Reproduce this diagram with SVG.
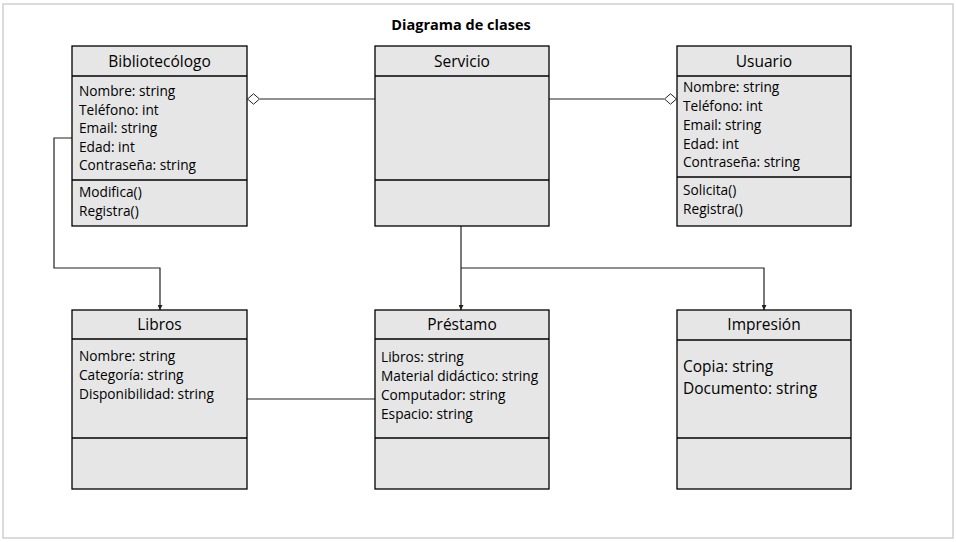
<svg xmlns="http://www.w3.org/2000/svg" width="956" height="542" viewBox="0 0 956 542">
<style>
.box{fill:#e6e6e6;stroke:#000;stroke-width:1.3}
.div{stroke:#000;stroke-width:1.3}
.t{font-family:"Open Sans","Liberation Sans",sans-serif;font-size:13.7px;fill:#000}
.h{font-family:"Open Sans","Liberation Sans",sans-serif;font-size:15.5px;fill:#000;text-anchor:middle}
.big{font-family:"Open Sans","Liberation Sans",sans-serif;font-size:15.5px;fill:#000}
.c{fill:none;stroke:#222;stroke-width:1.2}
</style>
<defs>
<marker id="arr" viewBox="0 0 10 10" refX="10" refY="5" markerWidth="5" markerHeight="5" orient="auto" markerUnits="userSpaceOnUse"><path d="M0,0 L10,5 L0,10 z" fill="#222"/></marker>
<marker id="dia" viewBox="0 0 13 12" refX="0" refY="6" markerWidth="13" markerHeight="12" orient="auto" markerUnits="userSpaceOnUse"><path d="M0.5,6 L6.5,0.8 L12.5,6 L6.5,11.2 z" fill="#fff" stroke="#222" stroke-width="1"/></marker>
</defs>
<rect x="0" y="0" width="956" height="542" fill="#fff"/>
<rect x="3" y="4" width="950" height="534" fill="#fff" stroke="#cfcfcf" stroke-width="1.5"/>
<text x="461" y="30" text-anchor="middle" font-family="Open Sans,Liberation Sans,sans-serif" font-size="14.5" font-weight="bold">Diagrama de clases</text>

<g id="connectors">
<path class="c" d="M375,99 H260" marker-end="url(#dia)"/>
<path class="c" d="M549,99 H664" marker-end="url(#dia)"/>
<path class="c" d="M72,138 H54 V268 H160 V310" marker-end="url(#arr)"/>
<path class="c" d="M247,399 H375"/>
<path class="c" d="M461,226 V310" marker-end="url(#arr)"/>
<path class="c" d="M461,268 H764 V310" marker-end="url(#arr)"/>
</g>

<g id="bibliotecologo">
<rect class="box" x="72" y="46" width="175" height="180"/>
<line class="div" x1="72" y1="76" x2="247" y2="76"/>
<line class="div" x1="72" y1="180" x2="247" y2="180"/>
<text class="h" x="159.5" y="67">Bibliotecólogo</text>
<text class="t" x="79" y="96">Nombre: string</text>
<text class="t" x="79" y="114.5">Teléfono: int</text>
<text class="t" x="79" y="133">Email: string</text>
<text class="t" x="79" y="151.5">Edad: int</text>
<text class="t" x="79" y="170">Contraseña: string</text>
<text class="t" x="79" y="197">Modifica()</text>
<text class="t" x="79" y="216">Registra()</text>
</g>

<g id="servicio">
<rect class="box" x="375" y="46" width="174" height="180"/>
<line class="div" x1="375" y1="76" x2="549" y2="76"/>
<line class="div" x1="375" y1="180" x2="549" y2="180"/>
<text class="h" x="462" y="67">Servicio</text>
</g>

<g id="usuario">
<rect class="box" x="677" y="46" width="174" height="180"/>
<line class="div" x1="677" y1="76" x2="851" y2="76"/>
<line class="div" x1="677" y1="177" x2="851" y2="177"/>
<text class="h" x="764" y="67">Usuario</text>
<text class="t" x="683" y="92">Nombre: string</text>
<text class="t" x="683" y="110.5">Teléfono: int</text>
<text class="t" x="683" y="130">Email: string</text>
<text class="t" x="683" y="148.5">Edad: int</text>
<text class="t" x="683" y="167">Contraseña: string</text>
<text class="t" x="683" y="195">Solicita()</text>
<text class="t" x="683" y="214">Registra()</text>
</g>

<g id="libros">
<rect class="box" x="72" y="310" width="175" height="179"/>
<line class="div" x1="72" y1="339" x2="247" y2="339"/>
<line class="div" x1="72" y1="438" x2="247" y2="438"/>
<text class="h" x="159.5" y="330">Libros</text>
<text class="t" x="79" y="361">Nombre: string</text>
<text class="t" x="79" y="380">Categoría: string</text>
<text class="t" x="79" y="399">Disponibilidad: string</text>
</g>

<g id="prestamo">
<rect class="box" x="375" y="310" width="174" height="179"/>
<line class="div" x1="375" y1="339" x2="549" y2="339"/>
<line class="div" x1="375" y1="438" x2="549" y2="438"/>
<text class="h" x="462" y="330">Préstamo</text>
<text class="t" x="381" y="362">Libros: string</text>
<text class="t" x="381" y="381">Material didáctico: string</text>
<text class="t" x="381" y="400">Computador: string</text>
<text class="t" x="381" y="419">Espacio: string</text>
</g>

<g id="impresion">
<rect class="box" x="677" y="310" width="174" height="179"/>
<line class="div" x1="677" y1="340" x2="851" y2="340"/>
<line class="div" x1="677" y1="438" x2="851" y2="438"/>
<text class="h" x="764" y="330">Impresión</text>
<text class="big" x="683" y="372">Copia: string</text>
<text class="big" x="683" y="394">Documento: string</text>
</g>
</svg>
